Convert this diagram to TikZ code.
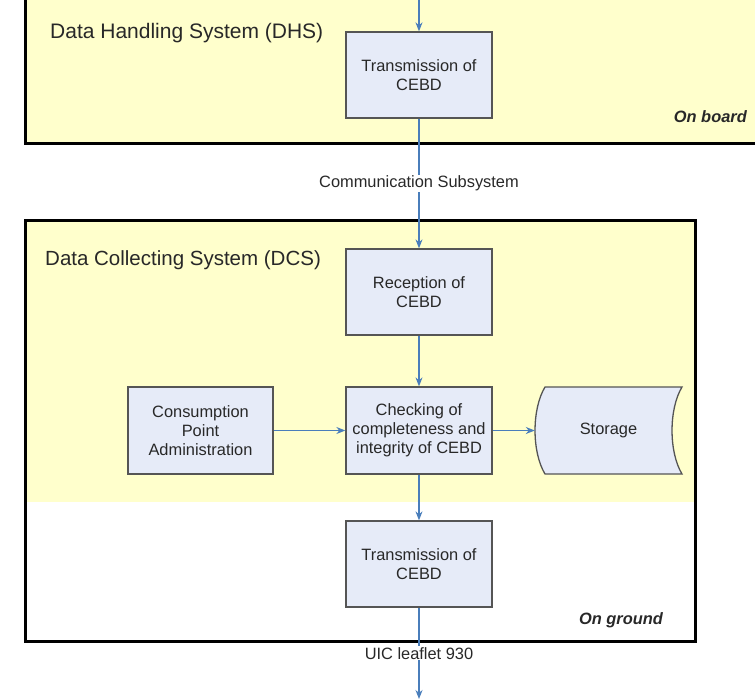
\documentclass[tikz,border=0pt]{standalone}
\usepackage{fontspec}
\setmainfont{Liberation Sans}
\usetikzlibrary{arrows.meta}
\definecolor{paneyellow}{RGB}{255,255,204}
\definecolor{boxfill}{RGB}{230,235,248}
\definecolor{boxline}{RGB}{85,85,85}
\definecolor{flowblue}{RGB}{74,126,187}
\definecolor{txt}{RGB}{40,40,40}
\tikzset{
  procbox/.style={draw=boxline, fill=boxfill, line width=1.3pt, minimum width=146pt,
    minimum height=86pt, align=center, inner sep=2pt, text=txt,
    font=\fontsize{16.4}{19}\selectfont},
  flow/.style={draw=flowblue, line width=1.2pt, -{Stealth[length=9pt,width=7pt]}},
  flowlabel/.style={fill=white, inner sep=1pt, text=txt, font=\fontsize{16.4}{19}\selectfont},
  panetitle/.style={anchor=west, text=txt, inner sep=0pt, font=\fontsize{20.5}{24}\selectfont},
  placelabel/.style={text=txt, inner sep=0pt, font=\fontsize{16.4}{19}\selectfont\bfseries\itshape},
  paneborder/.style={draw=black, line width=3pt}
}
\begin{document}
\begin{tikzpicture}[x=1pt, y=-1pt]
\useasboundingbox (0,0) rectangle (755,699);

% on-board pane
\fill[paneyellow] (25,0) rectangle (755,143);
\draw[paneborder] (25,0) -- (25,143) -- (755,143);
\node[panetitle, font=\fontsize{21}{25}\selectfont] (dhs) at (50,33) {Data Handling System (DHS)};
\node[placelabel, anchor=east] (onboard) at (747,117) {On board};

% on-ground pane
\fill[paneyellow] (25,220) rectangle (695,502);
\draw[paneborder] (25,220) rectangle (695,641);
\node[panetitle] (dcs) at (45,260) {Data Collecting System (DCS)};
\node[placelabel] (onground) at (621,620) {On ground};

% process boxes
\node[procbox] (tx1) at (419,75) {Transmission of\\CEBD};
\node[procbox] (rx) at (419,292) {Reception of\\CEBD};
\node[procbox, minimum height=87pt] (chk) at (419,430.5) {Checking of\\completeness and\\integrity of CEBD};
\node[procbox, minimum width=145pt, minimum height=87pt] (cpa) at (200.5,430.5) {Consumption\\Point\\Administration};
\node[procbox] (tx2) at (419,564) {Transmission of\\CEBD};

% stored-data shape
\node[minimum width=147pt, minimum height=87pt, inner sep=0pt, text=txt,
  font=\fontsize{16.4}{19}\selectfont] (sto) at (608.5,430.5) {Storage};
\draw[draw=boxline, fill=boxfill, line width=1.3pt]
  (545,387) .. controls (531.7,409) and (531.7,452) .. (545,474)
  -- (682,474) .. controls (668.7,452) and (668.7,409) .. (682,387) -- cycle;
\node[text=txt, font=\fontsize{16.4}{19}\selectfont] at (sto.center) {Storage};

% flow connectors
\coordinate (inflow) at (419,0);
\coordinate (outflow) at (419,699);
\draw[flow] (inflow) -- (tx1.north);
\draw[flow] (tx1.south) -- node[flowlabel, pos=0.5] (comm) {Communication Subsystem} (rx.north);
\draw[flow] (rx.south) -- (chk.north);
\draw[flow] (cpa.east) -- (chk.west);
\draw[flow] (chk.east) -- (sto.west);
\draw[flow] (chk.south) -- (tx2.north);
\draw[flow] (tx2.south) -- node[flowlabel, pos=0.5] (uic) {UIC leaflet 930} (outflow);
\end{tikzpicture}
\end{document}
